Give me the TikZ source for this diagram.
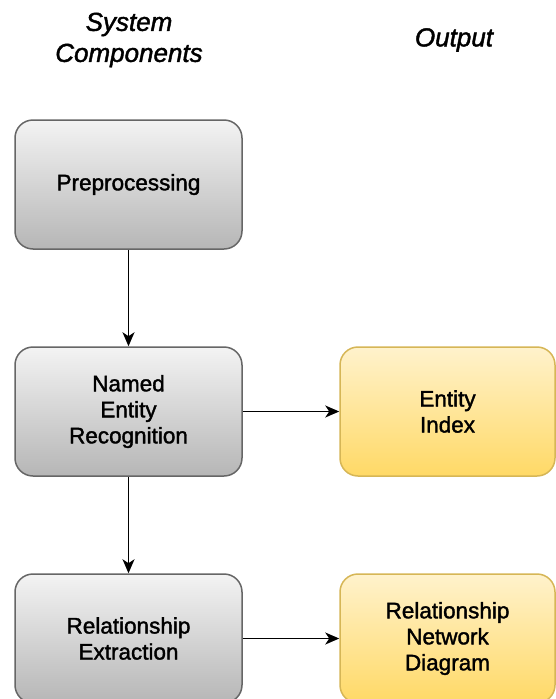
\documentclass[tikz,border=0pt]{standalone}
\usepackage{fontspec}
\setmainfont{Liberation Sans}
\newfontfamily\medfont{Liberation Sans}[FakeBold=1.6]
\usetikzlibrary{arrows.meta}

\definecolor{compTop}{HTML}{F3F3F3}
\definecolor{compBot}{HTML}{B6B6B6}
\definecolor{compLine}{HTML}{666666}
\definecolor{outTop}{HTML}{FFF2CC}
\definecolor{outBot}{HTML}{FFD966}
\definecolor{outLine}{HTML}{D6B656}

\tikzset{
  comp/.style={draw=compLine, line width=1.5pt, rounded corners=18pt,
    top color=compTop, bottom color=compBot,
    minimum width=227pt, minimum height=129pt, align=center,
    font=\medfont\fontsize{22.5}{26}\selectfont},
  outp/.style={comp, draw=outLine, top color=outTop, bottom color=outBot,
    minimum width=215pt},
  head/.style={align=center, font=\medfont\itshape\fontsize{26}{31}\selectfont},
}

\begin{document}
\begin{tikzpicture}[x=1pt, y=-1pt, >={Stealth[length=14pt, width=12pt, inset=4pt]}]

\clip (0,0) rectangle (556,699);

%------------------ HEADINGS ------------------%
\node[head] (hsys) at (129,40) {System\\Components};
\node[head] (hout) at (454,40) {Output};

%------------------ SYSTEM COMPONENTS ------------------%
\node[comp] (pre) at (128.5,184.5) {Preprocessing};
\node[comp] (ner) at (128.5,411.5) {Named\\Entity\\Recognition};
\node[comp] (rel) at (128.5,638.5) {Relationship\\Extraction};

%------------------ OUTPUTS ------------------%
\node[outp] (idx) at (447.5,411.5) {Entity\\Index};
\node[outp] (net) at (447.5,638.5) {Relationship\\Network\\Diagram};

%------------------ ARROWS ------------------%
\draw[->, line width=1.6pt] (pre) -- (ner);
\draw[->, line width=1.6pt] (ner) -- (rel);
\draw[->, line width=1.6pt] (ner) -- (idx);
\draw[->, line width=1.6pt] (rel) -- (net);

\end{tikzpicture}
\end{document}
